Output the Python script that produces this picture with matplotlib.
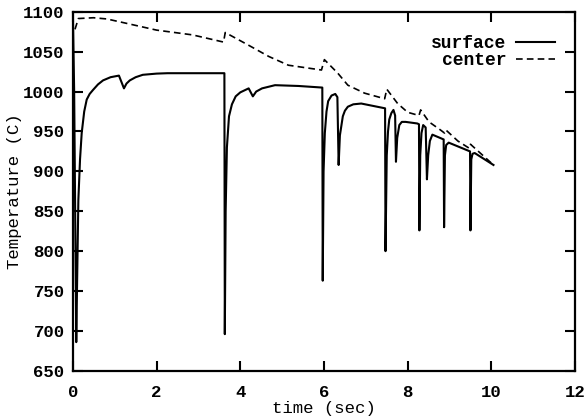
import matplotlib
matplotlib.use("Agg")
import matplotlib.pyplot as plt

# surface temperature (time in sec, temperature in C)
surface_t = [0.00, 0.03, 0.08, 0.10, 0.13, 0.17, 0.21, 0.27, 0.33, 0.40, 0.48, 0.60, 0.72, 0.90, 1.10,
             1.22, 1.28, 1.36, 1.50, 1.67, 2.00, 2.26, 3.62,
             3.63, 3.65, 3.68, 3.73, 3.80, 3.89, 4.00, 4.20, 4.30, 4.38, 4.52, 4.83, 5.39, 5.96,
             5.97, 5.99, 6.02, 6.06, 6.10, 6.18, 6.27, 6.32, 6.35, 6.38, 6.45, 6.50, 6.57, 6.70,
             6.89, 7.46,
             7.47, 7.50, 7.53, 7.56, 7.61, 7.66, 7.70, 7.72, 7.75, 7.80, 7.86, 7.95, 8.23, 8.27,
             8.28, 8.30, 8.33, 8.37, 8.43, 8.46, 8.49, 8.53, 8.59, 8.86,
             8.87, 8.89, 8.92, 8.98, 9.49, 9.50, 9.52, 9.55, 9.60, 10.05]
surface_T = [1095, 1000, 686, 760, 864, 915, 948, 975, 990, 997, 1002, 1009, 1014, 1018, 1020,
             1004, 1010, 1014, 1018, 1021, 1022.5, 1023, 1023,
             696, 850, 930, 969, 984, 994, 999, 1004, 994, 1000, 1004, 1008, 1007, 1005,
             763, 900, 948, 975, 988, 995, 997, 993, 908, 945, 969, 976, 981, 984,
             985, 979,
             800, 920, 950, 965, 973, 977, 970, 912, 942, 958, 962, 962, 960, 959,
             826, 920, 948, 958, 955, 890, 920, 938, 946, 940,
             830, 920, 933, 936, 925, 826, 915, 922, 923, 908]

# center temperature
center_t = [0.05, 0.13, 0.49, 0.81, 1.28, 2.00, 2.86, 3.60, 3.64, 4.20, 4.68, 5.15, 5.94, 6.01,
            6.33, 6.57, 6.97, 7.45, 7.50, 7.76, 8.00, 8.27, 8.31, 8.51, 8.78, 8.88, 8.91,
            9.20, 9.47, 9.50, 10.05]
center_T = [1078, 1091.5, 1092.5, 1091, 1085.5, 1077, 1071, 1062, 1074, 1058, 1044, 1033, 1027, 1040,
            1023, 1008, 998, 991, 1003, 985, 974, 970, 977, 962, 952, 948, 952,
            938, 929, 934, 908]

x_ticks = [0, 2, 4, 6, 8, 10, 12]
y_ticks = [650, 700, 750, 800, 850, 900, 950, 1000, 1050, 1100]

plt.rcParams['font.family'] = ['Liberation Mono', 'DejaVu Sans Mono']
plt.rcParams['font.weight'] = 'bold'

fig = plt.figure(figsize=(5.88, 4.2), dpi=100)
ax = fig.add_axes([0.124, 0.117, 0.854, 0.855])

ax.plot(surface_t, surface_T, color='black', lw=1.5, label='surface')
ax.plot(center_t, center_T, color='black', lw=1.2, ls=(0, (4, 2.5)), label='center')

ax.set_xlim(0, 12)
ax.set_ylim(650, 1100)
ax.set_xticks(x_ticks)
ax.set_yticks(y_ticks)
ax.tick_params(direction='in', length=7, width=1.5, top=True, right=True,
               labelsize=12.5, pad=6)
ax.tick_params(axis='x', pad=10)
for s in ax.spines.values():
    s.set_linewidth(1.6)

ax.set_xlabel('time (sec)', fontsize=12.5, labelpad=1)
ax.set_ylabel('Temperature (C)', fontsize=12.5, labelpad=1)

leg = ax.legend(loc='upper right', frameon=False, markerfirst=False, fontsize=13,
                handlelength=2.2, handletextpad=0.5, labelspacing=0.0,
                bbox_to_anchor=(0.993, 0.98))
for t in leg.get_texts():
    t.set_ha('right')

fig.savefig('out.png', dpi=100)
